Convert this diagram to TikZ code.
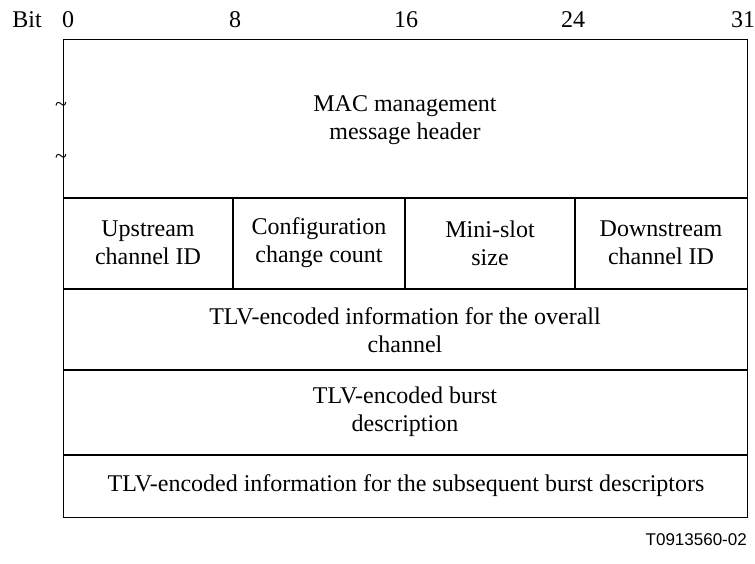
\documentclass[tikz,border=0pt]{standalone}
\usepackage{fontspec}
\setmainfont{Liberation Serif}
\newfontfamily\figfont{Liberation Sans}
\begin{document}
\begin{tikzpicture}
			[x=1pt, y=-1pt,
			every node/.style = {align=center, inner sep=0pt, font=\fontsize{24}{28}\selectfont},
			divider/.style = {line width=2.6pt},
			frame/.style = {line width=1pt},
			tilde/.style = {font=\fontsize{22}{22}\selectfont}]
			\useasboundingbox (0,0) rectangle (755,564);
			% bit ruler
			\node (bitlabel) at (27,20) {Bit};
			\foreach \b/\x in {0/68,8/235,16/406,24/573,31/743}
				\node (bit\b) at (\x,20) {\b};
			% rows and fields
			\foreach \y in {198,289,370,455}
				\draw[divider] (63,\y) -- (747,\y);
			\foreach \x in {233,405,575}
				\draw[divider] (\x,198) -- (\x,289);
			\draw[frame] (63,40) rectangle (747,517);
			\node (header) at (405,120) {MAC management\\message header};
			\node[tilde] (cut1) at (61,107) {\textasciitilde};
			\node[tilde] (cut2) at (61,159) {\textasciitilde};
			\node (upstream) at (148,243) {Upstream\\channel ID};
			\node (config) at (319,243) {Configuration\\change count};
			\node (minislot) at (490,243) {Mini-slot\\size};
			\node (downstream) at (661,243) {Downstream\\channel ID};
			\node (overall) at (405,330) {TLV-encoded information for the overall\\channel};
			\node (burst) at (405,412) {TLV-encoded burst\\description};
			\node (subsequent) at (406,486) {TLV-encoded information for the subsequent burst descriptors};
			\node[anchor=east, font=\figfont\fontsize{17}{17}\selectfont] (figid) at (747,540) {T0913560-02};
		\end{tikzpicture}
\end{document}
